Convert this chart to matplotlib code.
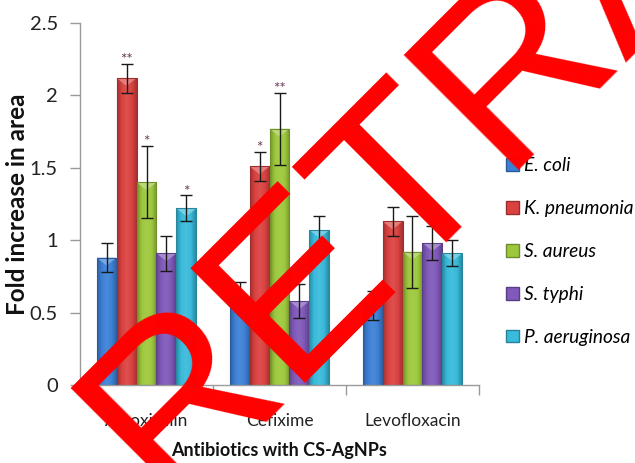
import matplotlib
matplotlib.use("Agg")
import matplotlib.pyplot as plt
import numpy as np
from matplotlib.colors import LinearSegmentedColormap, to_rgb
from matplotlib.patches import Polygon, Patch

# Data
antibiotics = ["Amoxicillin", "Cefixime", "Levofloxacin"]
strains = ["E. coli", "K. pneumonia", "S. aureus", "S. typhi", "P. aeruginosa"]
fold_ecoli = [0.88, 0.61, 0.55]
fold_kpneu = [2.12, 1.51, 1.13]
fold_saureus = [1.40, 1.77, 0.92]
fold_styphi = [0.91, 0.58, 0.98]
fold_paerug = [1.22, 1.07, 0.91]
err_ecoli = [0.10, 0.10, 0.10]
err_kpneu = [0.10, 0.10, 0.10]
err_saureus = [0.25, 0.25, 0.25]
err_styphi = [0.12, 0.12, 0.12]
err_paerug = [0.09, 0.10, 0.09]
# significance marks per strain, per antibiotic
sig_ecoli = ["", "", ""]
sig_kpneu = ["**", "*", ""]
sig_saureus = ["*", "**", ""]
sig_styphi = ["", "", ""]
sig_paerug = ["*", "", ""]

values = [fold_ecoli, fold_kpneu, fold_saureus, fold_styphi, fold_paerug]
errors = [err_ecoli, err_kpneu, err_saureus, err_styphi, err_paerug]
sigs = [sig_ecoli, sig_kpneu, sig_saureus, sig_styphi, sig_paerug]

colors = ["#3C80D6", "#DA4240", "#9DC83C", "#8059BA", "#38BADA"]

font = "Lato"
plt.rcParams["font.family"] = [font, "DejaVu Sans"]

fig = plt.figure(figsize=(6.35, 4.63), dpi=100)
ax = fig.add_axes([80 / 635, 1 - 385 / 463, 399 / 635, 362 / 463])

x = np.arange(len(antibiotics))
width = 0.15
offsets = (np.arange(len(strains)) - 2) * width


def shade(c, f):
    r, g, b = to_rgb(c)
    if f < 1:
        return (r * f, g * f, b * f)
    return (r + (1 - r) * (f - 1), g + (1 - g) * (f - 1), b + (1 - b) * (f - 1))


for i, (vals, errs, sg, col) in enumerate(zip(values, errors, sigs, colors)):
    bars = ax.bar(x + offsets[i], vals, width, color="none",
                  edgecolor=shade(col, 0.72), linewidth=0.8, zorder=3)
    cmap = LinearSegmentedColormap.from_list(
        "g", [shade(col, 0.75), shade(col, 1.0), shade(col, 1.08),
              shade(col, 1.0), shade(col, 0.75)])
    grad = np.linspace(0, 1, 64).reshape(1, -1)
    for b in bars:
        x0, w, h = b.get_x(), b.get_width(), b.get_height()
        im = ax.imshow(grad, cmap=cmap, aspect="auto",
                       extent=(x0, x0 + w, 0, h), zorder=2)
        im.set_clip_path(b)
        # bevel at the top of the bar
        tri = Polygon([(x0, h), (x0 + w, h), (x0 + w / 2, h - 0.055)],
                      closed=True, facecolor=shade(col, 1.35),
                      edgecolor="none", alpha=0.9, zorder=2.5)
        ax.add_patch(tri)
    ax.errorbar(x + offsets[i], vals, yerr=errs, fmt="none", ecolor="#1a1a1a",
                elinewidth=1.0, capsize=4, capthick=1.0, zorder=4)
    for xi, v, e, s in zip(x + offsets[i], vals, errs, sg):
        if s:
            ax.text(xi, v + e + 0.025, s, ha="center", va="center",
                    fontsize=11, color="#6a3a5a", zorder=5)

ax.set_xlim(-0.5, 2.5)
ax.set_ylim(0, 2.5)
ax.set_xticks(x)
ax.set_xticklabels(antibiotics, fontsize=12.5, color="#222222")
ax.set_xticks([0.5, 1.5, 2.5], minor=True)
ax.tick_params(axis="x", which="major", length=0, pad=20)
ax.tick_params(axis="x", which="minor", length=7, color="#9a9a9a", width=1)
ax.set_yticks([0, 0.5, 1, 1.5, 2, 2.5])
ax.set_yticklabels(["0", "0.5", "1", "1.5", "2", "2.5"])
ax.tick_params(axis="y", length=7, color="#9a9a9a", width=1,
               labelsize=14.5, labelcolor="#222222", pad=9)
for side in ("top", "right"):
    ax.spines[side].set_visible(False)
for side in ("left", "bottom"):
    ax.spines[side].set_color("#9a9a9a")
    ax.spines[side].set_linewidth(1)

ax.set_ylabel("Fold increase in area", fontsize=17.5, fontweight="bold",
              color="#111111")
ax.yaxis.set_label_coords(-0.128, 0.5)
ax.set_xlabel("Antibiotics with CS-AgNPs", fontsize=13, fontweight="bold",
              color="#111111")
ax.xaxis.set_label_coords(0.5, -0.158)

handles = [Patch(facecolor=c, edgecolor=shade(c, 0.7)) for c in colors]
leg = fig.legend(handles, strains, loc="upper left",
                 bbox_to_anchor=(489 / 635, 1 - 140 / 463), frameon=False,
                 prop={"family": font, "style": "italic", "size": 13.8},
                 handlelength=0.65, handleheight=0.65, handletextpad=0.3,
                 labelspacing=1.35)

# retraction stamp across the figure
fig.text(166 / 635, 1 - 503 / 463, "RETRACTED", rotation=45,
         rotation_mode="anchor", ha="left", va="baseline",
         fontsize=170, color="#FF0000", family="Liberation Sans", zorder=10)

fig.savefig("out.png", dpi=100)
